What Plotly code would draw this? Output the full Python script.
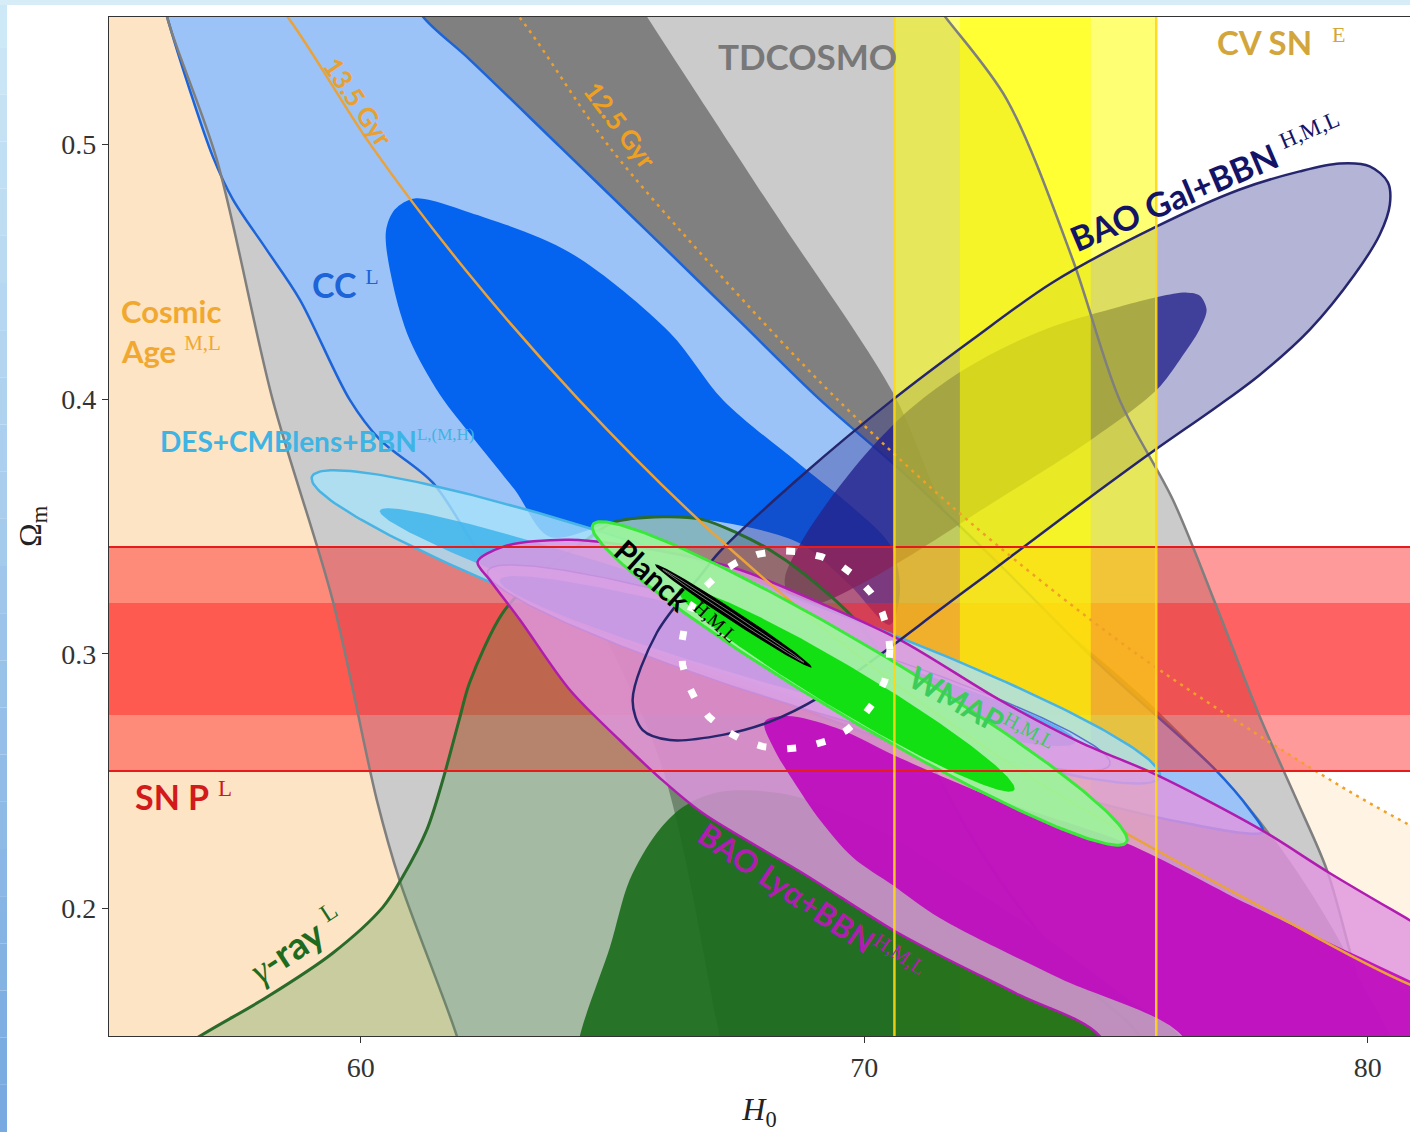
import numpy as np
import plotly.graph_objects as go

# ---------------- axes ----------------
X_RANGE = [55.0, 80.84]
Y_RANGE = [0.15, 0.55]
x_ticks = [60, 70, 80]
y_ticks = [0.2, 0.3, 0.4, 0.5]

# ---------------- SN P (horizontal bands, Omega_m) ----------------
snp_1s = [0.276, 0.320]
snp_2s = [0.254, 0.342]
# ---------------- CV SN (vertical bands, H0) ----------------
cvsn_1s = [71.9, 74.5]
cvsn_2s = [70.6, 75.8]

# ---------------- Cosmic age curves ----------------
age135_h = [56.50, 58.55, 60.19, 62.11, 64.32, 66.85, 69.83, 73.43, 77.94, 80.86, 83.90]
age135_om = [0.60, 0.55, 0.50, 0.45, 0.40, 0.35, 0.30, 0.25, 0.20, 0.17, 0.15]
age125_h = [61.00, 63.15, 64.90, 67.08, 69.46, 72.20, 75.41, 79.30, 81.10, 84.20]
age125_om = [0.60, 0.55, 0.50, 0.45, 0.40, 0.35, 0.30, 0.25, 0.23, 0.20]

# ---------------- TDCOSMO ----------------
td2_left_h = [56.05, 56.15, 57.14, 58.25, 59.44, 60.32, 60.77, 61.91, 62.26]
td2_left_om = [0.5648, 0.5503, 0.4941, 0.3998, 0.3212, 0.2426, 0.2112, 0.1499, 0.1248]
td2_right_h = [71.20, 71.60, 72.83, 74.14, 75.07, 76.13, 77.00, 77.86, 78.59, 79.19, 79.64, 80.10, 80.44]
td2_right_om = [0.5609, 0.5503, 0.5177, 0.4548, 0.3998, 0.3605, 0.3185, 0.2752, 0.2426, 0.2151, 0.1837, 0.1499, 0.1248]
td1_left_h = [61.17, 61.23, 62.16, 63.55, 65.94, 67.13, 67.43]
td1_left_om = [0.5609, 0.5503, 0.4391, 0.3605, 0.2583, 0.1499, 0.1248]
td1_right_h = [65.34, 65.68, 68.18, 70.57, 71.90, 73.88, 75.81, 77.86, 79.64, 80.64]
td1_right_om = [0.5609, 0.5503, 0.4745, 0.4026, 0.3460, 0.3114, 0.2780, 0.2348, 0.1798, 0.1248]

# ---------------- CC (cosmic chronometers) ----------------
cc2_h = [60.97, 61.23, 62.16, 63.95, 65.74, 67.53, 69.12, 70.71, 72.69, 74.68, 76.92, 77.66, 77.91,
         76.27, 73.68, 70.71, 67.73, 65.14, 63.36, 62.56, 61.43, 60.38, 59.78, 58.79, 58.13, 57.46,
         57.06, 56.60, 56.15, 56.01]
cc2_om = [0.5609, 0.5503, 0.5334, 0.4992, 0.4650, 0.4305, 0.3998, 0.3723, 0.3350, 0.2957, 0.2556, 0.2387, 0.2301,
          0.2340, 0.2466, 0.2642, 0.2859, 0.3055, 0.3212, 0.3342, 0.3672, 0.3841, 0.3998, 0.4391, 0.4587, 0.4784,
          0.4953, 0.5216, 0.5503, 0.5609]
cc1_h = [60.50, 60.68, 61.07, 62.16, 64.15, 66.14, 67.19, 68.78, 69.71, 70.51, 70.71, 70.51, 69.71,
         68.78, 67.92, 66.79, 66.00, 65.00, 63.75, 63.06, 62.26, 61.57, 60.97, 60.64]
cc1_om = [0.4658, 0.4745, 0.4788, 0.4733, 0.4576, 0.4261, 0.3998, 0.3735, 0.3585, 0.3428, 0.3251, 0.3114, 0.3271,
          0.3428, 0.3487, 0.3527, 0.3538, 0.3515, 0.3460, 0.3644, 0.3841, 0.4018, 0.4234, 0.4450]

# ---------------- gamma-ray ----------------
gr2_h = [54.82, 56.80, 58.13, 59.44, 60.44, 60.83, 61.31, 61.63, 61.97, 62.16, 62.82, 63.50, 64.49, 65.00,
         66.00, 66.79, 67.47, 68.12, 68.78, 69.91, 70.71, 71.50, 72.69, 74.28, 75.47, 75.87]
gr2_om = [0.1248, 0.1499, 0.1652, 0.1825, 0.2006, 0.2124, 0.2308, 0.2505, 0.2752, 0.2886, 0.3161, 0.3303, 0.3448,
          0.3515, 0.3538, 0.3527, 0.3475, 0.3409, 0.3318, 0.3114, 0.2859, 0.2505, 0.2112, 0.1719, 0.1499, 0.1248]
gr1_h = [64.15, 64.35, 64.95, 65.34, 65.88, 66.40, 67.13, 68.52, 70.31, 71.90, 73.68, 75.27, 76.27, 76.66]
gr1_om = [0.1248, 0.1499, 0.1849, 0.2112, 0.2297, 0.2399, 0.2458, 0.2446, 0.2308, 0.2112, 0.1876, 0.1640, 0.1499, 0.1248]

# ---------------- BAO Gal + BBN ----------------
bg2_h = [65.88, 66.79, 67.13, 68.78, 70.57, 72.15, 73.74, 75.81, 77.46, 78.65, 79.44, 80.04, 80.40, 80.44,
         80.24, 79.74, 78.85, 77.86, 77.06, 75.73, 74.42, 73.49, 72.43, 71.50, 70.31, 69.12, 68.12, 67.19,
         66.14, 65.60, 65.40]
bg2_om = [0.3083, 0.3318, 0.3401, 0.3703, 0.3998, 0.4234, 0.4458, 0.4678, 0.4823, 0.4894, 0.4925, 0.4914, 0.4851,
          0.4764, 0.4646, 0.4489, 0.4273, 0.4096, 0.3978, 0.3794, 0.3605, 0.3468, 0.3310, 0.3173, 0.2996, 0.2831,
          0.2733, 0.2682, 0.2662, 0.2701, 0.2819]
bg1_h = [76.41, 75.87, 75.07, 73.74, 72.69, 71.76, 70.90, 70.11, 69.31, 68.72, 68.42, 68.56, 69.02, 69.91, 71.10,
         72.43, 74.42, 75.81, 76.27, 76.66, 76.80, 76.66]
bg1_om = [0.4418, 0.4403, 0.4363, 0.4285, 0.4194, 0.4088, 0.3959, 0.3802, 0.3605, 0.3428, 0.3291, 0.3200, 0.3193,
          0.3271, 0.3409, 0.3578, 0.3829, 0.4037, 0.4155, 0.4273, 0.4352, 0.4407]

# ---------------- BAO Lya + BBN ----------------
bl2_h = [62.32, 62.82, 64.15, 66.14, 67.53, 69.12, 70.71, 72.69, 74.28, 75.73, 76.80, 77.99, 79.25, 80.83, 82.03,
         82.03, 75.07, 74.68, 73.09, 71.50, 70.57, 68.78, 66.79, 65.94, 65.14, 64.15, 63.16, 62.56]
bl2_om = [0.3361, 0.3420, 0.3448, 0.3397, 0.3330, 0.3200, 0.3055, 0.2819, 0.2654, 0.2532, 0.2426, 0.2297, 0.2139,
          0.1955, 0.1817, 0.1248, 0.1248, 0.1499, 0.1660, 0.1817, 0.1916, 0.2139, 0.2375, 0.2513, 0.2662, 0.2859,
          0.3134, 0.3291]
bl1_h = [68.02, 68.46, 69.45, 70.71, 72.69, 75.21, 77.66, 80.83, 82.03, 82.03, 76.66, 76.32, 73.88, 71.50, 70.57,
         69.77, 69.12, 68.58, 68.22]
bl1_om = [0.2733, 0.2756, 0.2709, 0.2591, 0.2426, 0.2257, 0.2014, 0.1719, 0.1601, 0.1248, 0.1248, 0.1499, 0.1727,
          0.1963, 0.2092, 0.2202, 0.2348, 0.2505, 0.2623]

# ---------------- elliptical contours: centre H0, centre Om, axis1 (dH, dOm), axis2 (dH, dOm) ----------------
des_2s = [67.45, 0.3106, 8.42, -0.0589, -0.318, -0.0177]
des_1s = [67.13, 0.3102, 6.75, -0.0460, -0.159, -0.0094]
wmap_2s = [68.70, 0.2945, 6.18, -0.0379, -0.22, -0.0141]
wmap_1s = [68.48, 0.2972, 5.72, -0.0318, -0.145, -0.0102]
grn_2s = [69.91, 0.2884, 5.30, -0.0623, -0.365, -0.0122]
grn_1s = [69.65, 0.2859, 3.33, -0.0393, -0.223, -0.0074]
planck_2s = [67.40, 0.3149, 1.559, -0.0202, -0.058, -0.0018]
planck_1s = [67.40, 0.3149, 1.40, -0.0182, -0.018, -0.0006]
combo_ring = [68.44, 0.3016, 2.07, 0.0, 0.0, 0.0389]


def ellipse(p, n=241):
    cx, cy, ax, ay, bx, by = p
    t = np.linspace(0, 2 * np.pi, n)
    return cx + ax * np.cos(t) + bx * np.sin(t), cy + ay * np.cos(t) + by * np.sin(t)


def closed(h, om):
    return list(h) + [h[0]], list(om) + [om[0]]


fig = go.Figure()


def add_fill(h, om, color, line=None, width=0, spline=True, dash=None):
    fig.add_trace(go.Scatter(
        x=h, y=om, mode='lines', fill='toself', fillcolor=color,
        line=dict(color=line if line else 'rgba(0,0,0,0)', width=width if line else 0,
                  shape='spline' if spline else 'linear', smoothing=0.9, dash=dash),
        hoverinfo='skip', showlegend=False))


def add_line(h, om, color, width, dash=None, spline=True):
    fig.add_trace(go.Scatter(
        x=h, y=om, mode='lines',
        line=dict(color=color, width=width, dash=dash, shape='spline' if spline else 'linear', smoothing=0.9),
        hoverinfo='skip', showlegend=False))


# Cosmic age (12.5 Gyr lighter, 13.5 Gyr darker)
fig.add_trace(go.Scatter(x=[50.0] + age125_h, y=[0.60] + age125_om, mode='lines', fill='tozeroy',
                         fillcolor='#fff3e4', line=dict(width=0, color='rgba(0,0,0,0)', shape='spline', smoothing=0.8),
                         hoverinfo='skip', showlegend=False))
fig.add_trace(go.Scatter(x=[50.0] + age135_h, y=[0.60] + age135_om, mode='lines', fill='tozeroy',
                         fillcolor='#fde4c4', line=dict(width=0, color='rgba(0,0,0,0)', shape='spline', smoothing=0.8),
                         hoverinfo='skip', showlegend=False))

# TDCOSMO
h, o = closed(td2_left_h + td2_right_h[::-1], td2_left_om + td2_right_om[::-1])
add_fill(h, o, '#cbcbcb')
h, o = closed(td1_left_h + td1_right_h[::-1], td1_left_om + td1_right_om[::-1])
add_fill(h, o, '#808080')

# CC
h, o = closed(cc2_h, cc2_om)
add_fill(h, o, '#9cc3f7', line='#1c64d8', width=2.5)
h, o = closed(cc1_h, cc1_om)
add_fill(h, o, '#0464f0')

# BAO Gal fills
h, o = closed(bg2_h, bg2_om)
add_fill(h, o, 'rgba(40,40,140,0.35)')
h, o = closed(bg1_h, bg1_om)
add_fill(h, o, 'rgba(35,35,140,0.8)')

# SN P bands
for lo, hi in (snp_2s, snp_1s):
    add_fill([50, 90, 90, 50, 50], [lo, lo, hi, hi, lo], 'rgba(255,30,30,0.45)', spline=False)
# CV SN bands
for lo, hi in (cvsn_2s, cvsn_1s):
    add_fill([lo, hi, hi, lo, lo], [0.0, 0.0, 1.0, 1.0, 0.0], 'rgba(255,255,0,0.55)', spline=False)

# TDCOSMO edges
add_line(td2_left_h, td2_left_om, '#7f7f7f', 2.5)
add_line(td2_right_h, td2_right_om, '#7f7f7f', 2.5)

# gamma-ray
h, o = closed(gr2_h, gr2_om)
add_fill(h, o, 'rgba(80,150,70,0.30)', line='#2a6a2a', width=3)
h, o = closed(gr1_h, gr1_om)
add_fill(h, o, 'rgba(25,108,25,0.9)')

# DES + CMBlens + BBN
h, o = ellipse(des_2s)
add_fill(h, o, 'rgba(168,226,250,0.8)', line='#48b4e4', width=2.5, spline=False)
h, o = ellipse(des_1s)
add_fill(h, o, 'rgba(62,180,235,0.85)', spline=False)
# WMAP
h, o = ellipse(wmap_2s)
add_fill(h, o, 'rgba(182,205,245,0.88)', line='rgba(60,90,200,0.8)', width=1.5, spline=False)
h, o = ellipse(wmap_1s)
add_fill(h, o, 'rgba(90,170,240,0.92)', spline=False)

# BAO Lya
h, o = closed(bl2_h, bl2_om)
add_fill(h, o, 'rgba(224,150,224,0.82)', line='#b01cb0', width=2.5)
h, o = closed(bl1_h, bl1_om)
add_fill(h, o, 'rgba(190,10,190,0.92)')

# BAO Gal outline
h, o = closed(bg2_h, bg2_om)
add_line(h, o, '#26266e', 2.5)

# age lines
add_line(age135_h, age135_om, '#eaa23a', 2.5)
add_line(age125_h, age125_om, '#f0a028', 2.5, dash='3px,5px')

# green long ellipse
h, o = ellipse(grn_2s)
add_fill(h, o, 'rgba(155,245,155,0.92)', line='#3ae83a', width=3, spline=False)
h, o = ellipse(grn_1s)
add_fill(h, o, '#12e012', spline=False)

# Planck
h, o = ellipse(planck_2s)
add_fill(h, o, '#000000', spline=False)
h, o = ellipse(planck_1s)
add_line(h, o, '#777777', 1, spline=False)

# band edge lines
for v in snp_2s:
    add_line([50, 90], [v, v], '#e41c1c', 2, spline=False)
for v in cvsn_2s:
    add_line([v, v], [0.0, 1.0], 'rgba(255,215,20,0.9)', 2.5, spline=False)

# white dotted ring
h, o = ellipse(combo_ring, n=361)
add_line(h, o, 'white', 7, dash='9px,21px', spline=False)

# ---------------- labels ----------------
SERIF = 'Liberation Serif'


def sup(s, size=None):
    sz = f';font-size:{size}px' if size else ''
    return f"<sup><span style='font-family:{SERIF};font-weight:normal{sz}'>{s}</span></sup>"


ann = []


def label(x, y, text, color, size, angle=0, xanchor='center'):
    ann.append(dict(x=x, y=y, xref='x', yref='y', text=text, showarrow=False, textangle=angle,
                    xanchor=xanchor, yanchor='middle',
                    font=dict(family='Lato', size=size, color=color)))


label(68.88, 0.5346, '<b>TDCOSMO</b>', '#787878', 35)
label(76.96, 0.5401, '<b>CV SN</b>', '#d2a63c', 33, xanchor='left')
ann.append(dict(x=79.25, y=0.5430, xref='x', yref='y', text='E', showarrow=False, xanchor='left',
                yanchor='middle', font=dict(family=SERIF, size=22, color='#d2a63c')))
label(76.80, 0.4850, '<b>BAO Gal+BBN</b> ' + sup('H,M,L', 23), '#141466', 34, angle=-23)
label(58.99, 0.4450, '<b>CC</b> ' + sup('L', 22), '#1c64d8', 34, xanchor='left')
label(55.19, 0.4344, '<b>Cosmic</b>', '#f0a830', 31, xanchor='left')
label(55.19, 0.4192, '<b>Age</b> ' + sup('M,L', 21), '#f0a830', 31, xanchor='left')
label(55.97, 0.3837, '<b>DES+CMBlens+BBN</b>' + sup('L,(M,H)', 17), '#3db4e4', 28, xanchor='left')
label(55.47, 0.2442, '<b>SN P</b> ' + sup('L', 23), '#d21a1a', 34, xanchor='left')
label(58.72, 0.1862, f"<span style='font-family:{SERIF}'><i>γ</i></span><b>-ray</b> " + sup('L', 25),
      '#1e6a1e', 37, angle=-33)
label(66.25, 0.3232, '<b>Planck</b> ' + sup('H,M,L', 19), '#000000', 30, angle=42)
label(72.30, 0.2772, '<b>WMAP</b>' + sup('H,M,L', 20), '#3ccc5c', 31, angle=29)
label(68.95, 0.2022, '<b>BAO Lyα+BBN</b>' + sup('H,M,L', 21), '#b01eb0', 31, angle=34)
label(59.95, 0.5165, '<b>13.5 Gyr</b>', '#e8a030', 26, angle=56)
label(65.15, 0.5075, '<b>12.5 Gyr</b>', '#f0a020', 26, angle=53)

# ---------------- slide frame decoration ----------------
shapes = []
W, H = 1301.0, 1019.0
L0, T0, B0 = 109.0, 17.0, 1036.0


def px_x(p):
    return (p - L0) / W


def px_y(p):
    return (B0 - p) / H


nseg = 24
for i in range(nseg):
    f = i / (nseg - 1)
    c = (int(205 - 85 * f), int(232 - 62 * f), int(247 - 22 * f))
    y0 = 1132 * i / nseg
    y1 = 1132 * (i + 1) / nseg
    shapes.append(dict(type='rect', xref='paper', yref='paper', x0=px_x(0), x1=px_x(7),
                       y0=px_y(y1), y1=px_y(y0), fillcolor=f'rgb{c}', line=dict(width=0), layer='below'))
shapes.append(dict(type='rect', xref='paper', yref='paper', x0=px_x(0), x1=px_x(1410),
                   y0=px_y(5), y1=px_y(0), fillcolor='#d6ecf7', line=dict(width=0), layer='below'))

fig.update_layout(
    width=1410, height=1132, autosize=False,
    margin=dict(l=109, r=0, t=17, b=96),
    paper_bgcolor='white', plot_bgcolor='white',
    showlegend=False,
    annotations=ann, shapes=shapes,
    xaxis=dict(range=X_RANGE, tickvals=x_ticks, ticks='outside', ticklen=6, tickcolor='#333',
               showgrid=False, zeroline=False, showline=True, linecolor='#333', linewidth=1.2, mirror=True,
               tickfont=dict(family=SERIF, size=28, color='#333'),
               title=dict(text='<i>H</i><sub>0</sub>', font=dict(family=SERIF, size=32, color='#222'), standoff=16)),
    yaxis=dict(range=Y_RANGE, tickvals=y_ticks, ticks='outside', ticklen=6, tickcolor='#333',
               showgrid=False, zeroline=False, showline=True, linecolor='#333', linewidth=1.2,
               tickfont=dict(family=SERIF, size=28, color='#333'),
               title=dict(text='Ω<sub>m</sub>', font=dict(family=SERIF, size=32, color='#222'), standoff=10)),
)

fig.write_html('out.html', config={'displayModeBar': False},
               post_script="document.body.style.margin='0';document.body.style.overflow='hidden';")
